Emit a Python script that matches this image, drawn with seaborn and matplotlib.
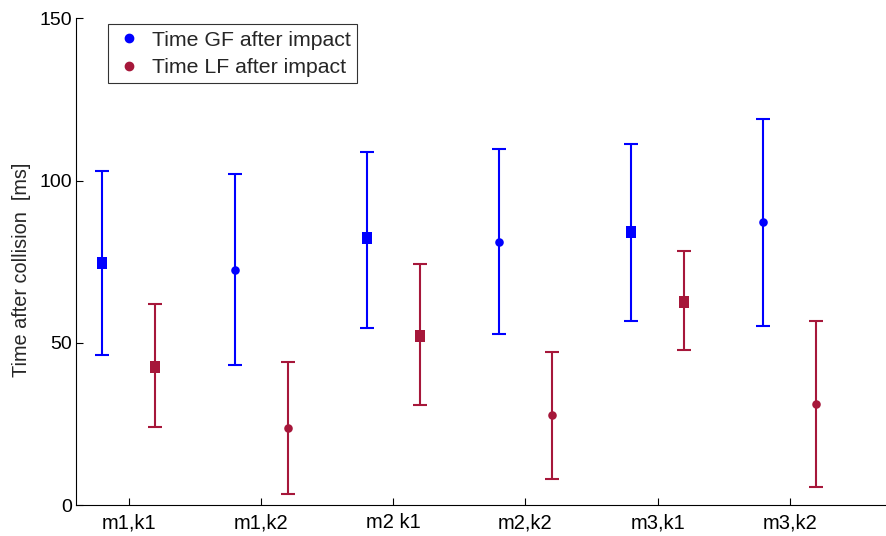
import numpy as np
import pandas as pd
import matplotlib
matplotlib.use("Agg")
import matplotlib.pyplot as plt
import seaborn as sns

categories = ["m1,k1", "m1,k2", "m2 k1", "m2,k2", "m3,k1", "m3,k2"]
markers = ["s", "o", "s", "o", "s", "o"]

gf_mean = [74.5, 72.5, 82.3, 81.1, 84.0, 87.1]
gf_low = [46.2, 43.1, 54.5, 52.7, 56.8, 55.1]
gf_high = [102.9, 102.1, 108.7, 109.6, 111.4, 119.0]

lf_mean = [42.5, 23.6, 52.0, 27.6, 62.5, 31.1]
lf_low = [24.1, 3.4, 30.8, 8.0, 47.7, 5.5]
lf_high = [62.1, 44.1, 74.2, 47.3, 78.2, 56.7]

series = {
    "Time GF after impact": (gf_mean, gf_low, gf_high, "#0000FF", -0.2),
    "Time LF after impact": (lf_mean, lf_low, lf_high, "#A6173A", 0.2),
}

# slightly tall rectangle for the k1 conditions, round dot for k2
rect = [(-0.8, -1.0), (0.8, -1.0), (0.8, 1.0), (-0.8, 1.0), (-0.8, -1.0)]
marker_specs = {"s": (rect, 80), "o": ("o", 38)}

sns.set_style("ticks")
plt.rcParams["font.family"] = ["Liberation Sans", "DejaVu Sans"]

fig = plt.figure(figsize=(8.87, 5.36), dpi=100)
ax = fig.add_axes([0.0857, 0.0578, 0.912, 0.908])

pos = np.arange(1, len(categories) + 1)
handles = []
for name, (mean, low, high, color, off) in series.items():
    df = pd.DataFrame({
        "x": pos + off,
        "mean": mean,
        "low": low,
        "high": high,
        "marker": markers,
    })
    ax.errorbar(df["x"], df["mean"],
                yerr=[df["mean"] - df["low"], df["high"] - df["mean"]],
                fmt="none", ecolor=color, elinewidth=1.5, capsize=4.7,
                capthick=1.5, zorder=2)
    for key, (mk, size) in marker_specs.items():
        sub = df[df["marker"] == key]
        sns.scatterplot(data=sub, x="x", y="mean", marker=mk, s=size,
                        color=color, edgecolor=color, linewidth=0,
                        ax=ax, zorder=3, legend=False)
    handles.append(plt.Line2D([], [], marker="o", linestyle="none",
                              markersize=6, color=color, label=name))

ax.set_xlim(0.6, 6.72)
ax.set_ylim(0, 150)
ax.set_xticks(pos)
ax.set_xticklabels(categories)
ax.set_yticks([0, 50, 100, 150])
ax.set_xlabel("")
ax.set_ylabel("Time after collision  [ms]", fontsize=14.3, labelpad=6)
ax.yaxis.label.set_y(0.483)
ax.tick_params(axis="both", direction="in", length=5, width=0.8,
               colors="black")
ax.tick_params(axis="x", pad=6, labelsize=14.5)
ax.tick_params(axis="y", pad=3, labelsize=14)
for side in ("top", "right"):
    ax.spines[side].set_visible(False)
for side in ("left", "bottom"):
    ax.spines[side].set_linewidth(0.8)
    ax.spines[side].set_color("black")

leg = ax.legend(handles=handles, loc="upper left",
                bbox_to_anchor=(0.0396, 0.988), fontsize=15.3,
                frameon=True, fancybox=False, edgecolor="black",
                handletextpad=0.37, borderpad=0.3, labelspacing=0.4,
                handlelength=1.4, borderaxespad=0)
leg.get_frame().set_linewidth(0.8)

fig.savefig("out.png", dpi=100)
